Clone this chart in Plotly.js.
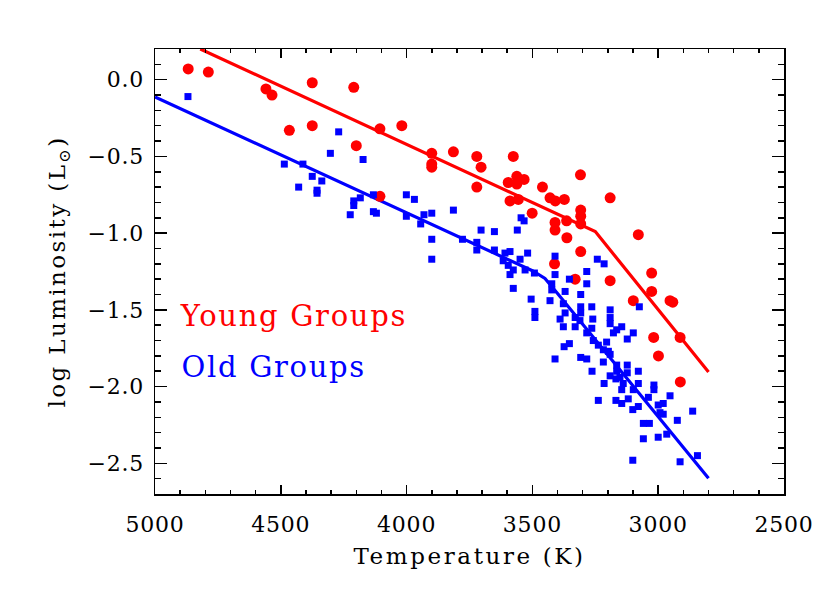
<!DOCTYPE html>
<html>
<head>
<meta charset="utf-8">
<script src="https://cdn.plot.ly/plotly-3.0.1.min.js"></script>
<style>
  html, body { margin: 0; padding: 0; background: #fff; }
  #myDiv { width: 830px; height: 593px; }
  /* the original plot uses a widely spaced vector font */
  #myDiv text.xtitle { letter-spacing: 2.6px; }
  #myDiv text.ytitle { letter-spacing: 2.4px; }
  #myDiv .annotation-text { letter-spacing: 1.7px; }
  #myDiv .xtick text, #myDiv .ytick text { letter-spacing: 0.8px; }
</style>
</head>
<body>
<div id="myDiv"></div>
<script>
    // young groups (red circles)
    var youngTemp = [
        4868, 4788, 4559, 4535, 4375, 4210, 4466, 4375, 4106, 4019,
        4200, 4106, 3900, 3900, 3900, 3814, 3721, 3704, 3721, 3576,
        3562, 3533, 3596, 3562, 3460, 3589, 3556, 3430, 3409, 3373,
        3501, 3410, 3410, 3364, 3363, 3309, 3308, 3308, 3308, 3308,
        3412, 3330, 3191, 3191, 3079, 3026, 3026, 3099, 2953, 2942,
        3018, 2913, 2999, 2912
    ];
    var youngLum = [
        0.07, 0.05, -0.06, -0.10, -0.02, -0.05, -0.33, -0.30, -0.32, -0.30,
        -0.43, -0.76, -0.48, -0.55, -0.57, -0.47, -0.50, -0.57, -0.70, -0.50,
        -0.63, -0.65, -0.67, -0.68, -0.70, -0.79, -0.78, -0.77, -0.79, -0.78,
        -0.87, -0.93, -0.98, -0.92, -1.03, -0.62, -0.85, -0.89, -0.94, -1.12,
        -1.20, -1.30, -0.77, -1.31, -1.01, -1.26, -1.38, -1.44, -1.44, -1.45,
        -1.68, -1.68, -1.80, -1.97
    ];

    // old groups (blue squares)
    var oldTemp = [
        4869, 4270, 4303, 4173, 4486, 4412, 4375, 4337, 4429, 4356,
        4356, 4210, 4210, 4184, 4132, 4224, 4132, 4120, 4001, 4001,
        3969, 3931, 3944, 3900, 3814, 3900, 3900, 3778, 3704, 3651,
        3721, 3721, 3651, 3560, 3545, 3533, 3609, 3589, 3519, 3549,
        3616, 3596, 3576, 3589, 3529, 3492, 3410, 3410, 3576, 3423,
        3423, 3370, 3505, 3430, 3284, 3284, 3242, 3215, 3490, 3490,
        3353, 3308, 3377, 3370, 3390, 3377, 3308, 3264, 3311, 3260,
        3330, 3191, 3191, 3191, 3145, 3075, 3284, 3264, 3178, 3099,
        3123, 3353, 3374, 3258, 3238, 3205, 3218, 3198, 3410, 3308,
        3284, 3218, 3165, 3123, 3165, 3263, 3079, 3123, 3152, 3191,
        3191, 3168, 3215, 3139, 3079, 3145, 3099, 3017, 3017, 2953,
        3039, 3238, 3168, 3119, 3145, 3079, 3101, 3000, 2980, 2993,
        2980, 2863, 3059, 3035, 2924, 3000, 2966, 3059, 2844, 3101,
        2913, 3330, 3165, 3308
    ];
    var oldLum = [
        -0.11, -0.34, -0.48, -0.52, -0.55, -0.55, -0.63, -0.66, -0.70, -0.72,
        -0.74, -0.79, -0.82, -0.77, -0.75, -0.88, -0.86, -0.87, -0.75, -0.89,
        -0.78, -0.88, -0.94, -0.87, -0.85, -1.04, -1.17, -1.04, -0.98, -0.99,
        -1.06, -1.11, -1.11, -0.98, -0.90, -0.92, -1.13, -1.12, -1.13, -1.17,
        -1.18, -1.21, -1.24, -1.27, -1.24, -1.26, -1.15, -1.27, -1.36, -1.33,
        -1.37, -1.38, -1.43, -1.44, -1.25, -1.33, -1.17, -1.20, -1.51, -1.55,
        -1.30, -1.40, -1.46, -1.52, -1.56, -1.61, -1.48, -1.48, -1.57, -1.56,
        -1.55, -1.50, -1.55, -1.59, -1.61, -1.48, -1.65, -1.62, -1.65, -1.65,
        -1.69, -1.72, -1.74, -1.70, -1.73, -1.71, -1.76, -1.77, -1.82, -1.81,
        -1.82, -1.84, -1.86, -1.86, -1.90, -1.90, -1.90, -1.91, -1.94, -1.93,
        -1.79, -1.95, -1.98, -1.98, -1.98, -2.02, -2.02, -1.99, -2.02, -2.06,
        -2.07, -2.09, -2.09, -2.08, -2.11, -2.13, -2.15, -2.12, -2.11, -2.17,
        -2.18, -2.16, -2.24, -2.24, -2.22, -2.33, -2.31, -2.34, -2.45, -2.48,
        -2.49, -1.61, -1.63, -1.52
    ];

    // fitted relations
    var youngFitTemp = [4820, 3250, 2800];
    var youngFitLum = [0.20, -0.99, -1.905];
    var oldFitTemp = [5000, 3560, 3500, 3450, 3400, 2800];
    var oldFitLum = [-0.113, -1.196, -1.245, -1.295, -1.393, -2.598];

    var xTicks = [5000, 4500, 4000, 3500, 3000, 2500];
    var yTicks = [0.0, -0.5, -1.0, -1.5, -2.0, -2.5];
    var groupLabels = ['Young Groups', 'Old Groups'];

    var serif = 'DejaVu Serif, Liberation Serif, serif';

    var data = [{
        type: 'scatter',
        mode: 'lines',
        x: youngFitTemp,
        y: youngFitLum,
        line: {color: '#ff0000', width: 3.2},
        hoverinfo: 'skip'
    }, {
        type: 'scatter',
        mode: 'lines',
        x: oldFitTemp,
        y: oldFitLum,
        line: {color: '#0000ff', width: 3.2},
        hoverinfo: 'skip'
    }, {
        type: 'scatter',
        mode: 'markers',
        name: groupLabels[0],
        x: youngTemp,
        y: youngLum,
        marker: {symbol: 'circle', size: 11, color: '#ff0000'}
    }, {
        type: 'scatter',
        mode: 'markers',
        name: groupLabels[1],
        x: oldTemp,
        y: oldLum,
        marker: {symbol: 'square', size: 7, color: '#0000ff'}
    }];

    var axisCommon = {
        showgrid: false,
        zeroline: false,
        showline: true,
        linecolor: '#000',
        linewidth: 1.5,
        mirror: 'allticks',
        ticks: 'inside',
        tickcolor: '#000',
        tickwidth: 1.5,
        tickmode: 'array',
        tickfont: {family: serif, size: 22, color: '#000'}
    };

    var layout = {
        width: 830,
        height: 593,
        margin: {l: 155, r: 46, t: 49, b: 99},
        paper_bgcolor: '#fff',
        plot_bgcolor: '#fff',
        showlegend: false,
        font: {family: serif, color: '#000'},
        xaxis: Object.assign({}, axisCommon, {
            range: [5000, 2500],
            tickvals: xTicks,
            ticklen: 9,
            ticklabelstandoff: 10,
            minor: {tickmode: 'linear', tick0: 0, dtick: 100, ticks: 'inside', ticklen: 4, tickwidth: 1.5, tickcolor: '#000'},
            title: {text: 'Temperature (K)', font: {family: serif, size: 23, color: '#000'}, standoff: 12}
        }),
        yaxis: Object.assign({}, axisCommon, {
            range: [-2.7, 0.2],
            tickvals: yTicks,
            tickformat: '.1f',
            ticklen: 12,
            ticklabelstandoff: 5,
            minor: {tickmode: 'linear', tick0: 0, dtick: 0.1, ticks: 'inside', ticklen: 6, tickwidth: 1.5, tickcolor: '#000'},
            title: {text: 'log Luminosity (L<sub>⊙</sub>)', font: {family: serif, size: 23, color: '#000'}, standoff: 18}
        }),
        annotations: [{
            text: groupLabels[0],
            xref: 'paper', yref: 'paper',
            x: 0.053, y: 0.40,
            xanchor: 'left', yanchor: 'middle',
            showarrow: false,
            font: {family: serif, size: 29, color: '#ff0000'}
        }, {
            text: groupLabels[1],
            xref: 'paper', yref: 'paper',
            x: 0.053, y: 0.285,
            xanchor: 'left', yanchor: 'middle',
            showarrow: false,
            font: {family: serif, size: 29, color: '#0000ff'}
        }]
    };

    Plotly.newPlot('myDiv', data, layout, {staticPlot: true});
</script>
</body>
</html>
